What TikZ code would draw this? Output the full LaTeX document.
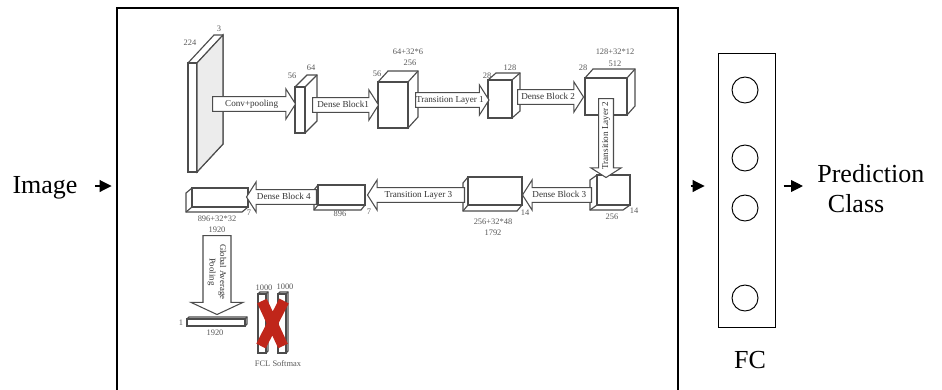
\documentclass[tikz,border=0pt]{standalone}
\usepackage{fontspec}
\setmainfont{Liberation Serif}
\usetikzlibrary{shapes.arrows,arrows.meta}
\definecolor{xred}{RGB}{192,38,26}

\tikzset{
  layer/.style={draw=black!70,line width=0.65pt},
  blk/.style={single arrow,draw=black!70,fill=white,line width=0.6pt,
    font=\fontsize{5.2}{6}\selectfont,text=black!80,inner xsep=0pt,inner ysep=1.5pt,
    text height=3.7pt,text depth=1.2pt,minimum width=0pt,
    single arrow head extend=4.3pt,single arrow tip angle=115},
  gapblk/.style={blk,text height=,text depth=,align=center,inner ysep=2.4pt,
    font=\fontsize{5}{6}\selectfont,single arrow head extend=6.8pt,single arrow tip angle=130},
  dim/.style={font=\fontsize{4.8}{5.5}\selectfont,text=black!65,inner sep=0pt},
  big/.style={font=\fontsize{14.8}{17}\selectfont,inner sep=0pt},
  bigarr/.style={-{Triangle[length=6.8pt,width=6.8pt]},line width=0.6pt},
  neuron/.style={circle,draw,line width=0.55pt,minimum size=0.52cm,inner sep=0pt}
}

% front face (#1,#2)-(#3,#4), depth #5,#6 up-right
\newcommand{\cubeur}[6]{%
  \filldraw[layer,fill=white](#1,#4)--(#1,#2)--++(#5,-#6)--(#3+#5,#2-#6)--(#3+#5,#4-#6)--(#3,#4)--cycle;
  \draw[layer](#3,#2)--++(#5,-#6);
  \filldraw[layer,fill=white](#1,#2)rectangle(#3,#4);}
% same, depth down-left
\newcommand{\cubedl}[6]{%
  \filldraw[layer,fill=white](#1,#2)--(#3,#2)--(#3,#4)--++(-#5,#6)--(#1-#5,#4+#6)--(#1-#5,#2+#6)--cycle;
  \draw[layer](#1,#4)--++(-#5,#6);
  \filldraw[layer,fill=white](#1,#2)rectangle(#3,#4);}

\begin{document}
\begin{tikzpicture}[x=0.02cm,y=-0.02cm]
  \useasboundingbox (0,0) rectangle (942,389);
  \clip (0,0) rectangle (942,389);
  \coordinate (mid) at (0,186);

  \node[draw,line width=0.7pt,minimum width=11.22cm,minimum height=8cm] (frame) at (397.5,208) {};

  % top row
  \cubeur{188}{63}{197}{172}{26}{28}
  \filldraw[layer,fill=gray!15](197,63)--(223,35)--(223,144)--(197,172)--cycle;
  \cubeur{295}{87}{305}{133}{12}{12}
  \cubeur{378}{82}{408}{128}{10}{11}
  \cubeur{488}{80}{512}{118}{8}{7}
  \cubeur{585}{78}{627}{115}{8}{9}
  % bottom row
  \cubedl{597}{175}{630}{205}{7}{5}
  \cubedl{468}{177}{522}{205}{5}{6}
  \cubedl{318}{185}{365}{205}{4}{5}
  \cubedl{192}{188}{248}{207}{6}{5}
  \cubeur{187}{319}{245}{326}{2}{2}
  \cubeur{258}{294}{266}{353}{2}{2}
  \cubeur{278}{294}{286}{353}{2}{2}

  \node[blk,anchor=tail,minimum height=1.66cm] (conv) at (212,104) {Conv+pooling};
  \node[blk,anchor=tail,minimum height=1.32cm] (db1) at (312,105) {Dense Block1};
  \node[blk,anchor=tail,minimum height=1.44cm] (tl1) at (415,100) {Transition Layer 1};
  \node[blk,anchor=tail,minimum height=1.32cm] (db2) at (517,97) {Dense Block 2};
  \node[blk,anchor=tail,minimum height=1.58cm,rotate=90,shape border rotate=180] (tl2) at (606,98) {Transition Layer 2};
  \node[blk,anchor=tail,minimum height=1.38cm,shape border rotate=180] (db3) at (592,195) {Dense Block 3};
  \node[blk,anchor=tail,minimum height=1.94cm,shape border rotate=180] (tl3) at (465,195) {Transition Layer 3};
  \node[blk,anchor=tail,minimum height=1.40cm,shape border rotate=180] (db4) at (317,197) {Dense Block 4};
  \node[gapblk,anchor=tail,minimum height=1.58cm,rotate=-90] (gap) at (217,235) {Global Average\\Pooling};

  \foreach \x/\y/\t [count=\i] in {190/43/224,219/29/3,292/76/56,311/68/64,377/74/56,
      408/52/64+32*6,410/63/256,487/76/28,510/68/128,583/68/28,615/52/128+32*12,615/64/512,
      634/211/14,612/217/256,525/213/14,493/222/256+32*48,493/233/1792,340/214/896,369/212/7,
      217/219/896+32*32,249/213/7,217/230/1920,181/323/1,215/333/1920,264/288/1000,285/287/1000,
      278/364/FCL Softmax}
    \node[dim] (d\i) at (\x,\y) {\t};

  \draw[xred,line width=6pt] (262,301)--(283,346) (284,301)--(261,346);

  % outside
  \node[big,anchor=base] (img) at (45,193) {Image};
  \node[draw,line width=0.55pt,minimum width=1.14cm,minimum height=5.5cm] (fc) at (746.5,190.5) {};
  \foreach \y [count=\i] in {90,158,208,298}
    \node[neuron] (u\i) at (745,\y) {};
  \node[big,anchor=base] (fclab) at (750,368) {FC};
  \node[big,anchor=west,align=left] (pred) at (817,189) {Prediction\\\hspace{6pt}Class};

  \draw[bigarr,shorten <=10pt,shorten >=2.8pt] (img.east |- mid)--(frame.west |- mid);
  \draw[bigarr,shorten <=6.8pt,shorten >=7.4pt] (frame.east |- mid)--(fc.west |- mid);
  \draw[bigarr,shorten <=4.6pt,shorten >=8pt] (fc.east |- mid)--(pred.west |- mid);
\end{tikzpicture}
\end{document}
